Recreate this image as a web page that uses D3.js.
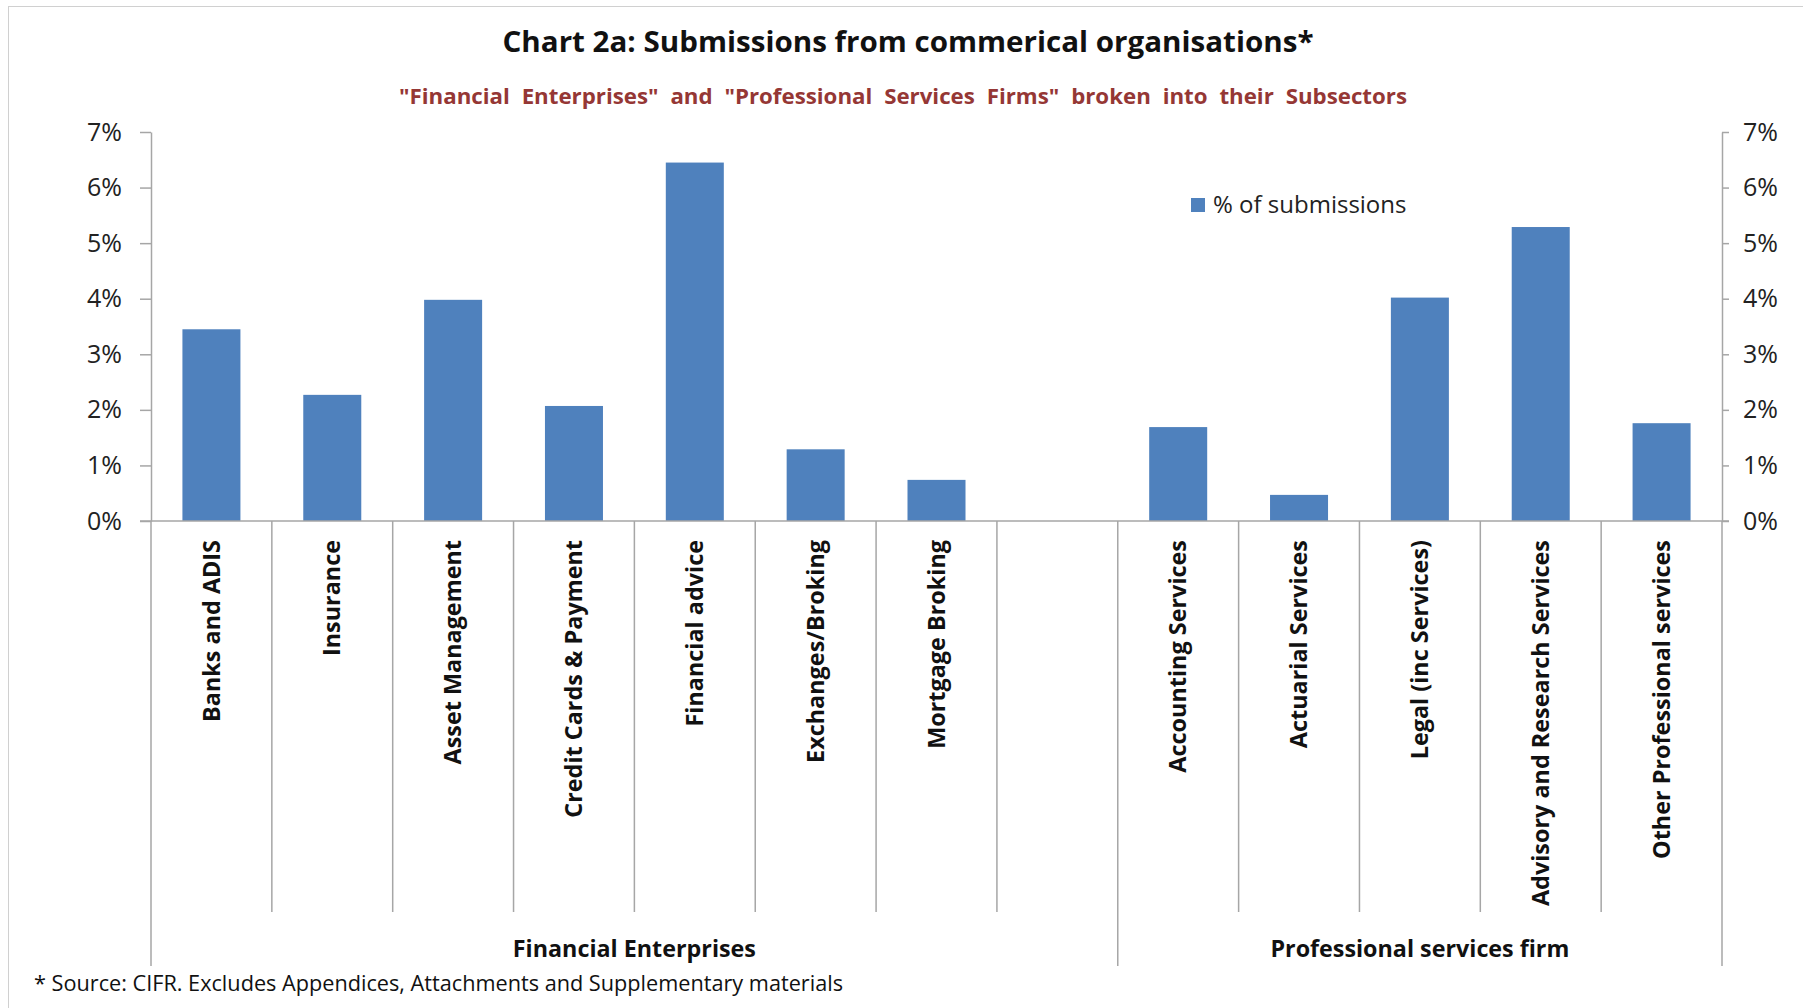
<!DOCTYPE html>
<html lang="en">
<head>
  <meta charset="UTF-8">
  <title>Chart 2a</title>
  <style>
    body { margin: 0; background: #fff; }
    svg text { font-family: "Open Sans", "Noto Sans", sans-serif; }
  </style>
</head>
<body>
  <script src="https://d3js.org/d3.v7.min.js"></script>
  <script>
    // data
    const categories = ['Banks and ADIS', 'Insurance', 'Asset Management', 'Credit Cards & Payment',
      'Financial advice', 'Exchanges/Broking', 'Mortgage Broking', '',
      'Accounting Services', 'Actuarial Services', 'Legal (inc Services)',
      'Advisory and Research Services', 'Other Professional services']
    const values = [3.45, 2.27, 3.98, 2.07, 6.45, 1.29, 0.74, null, 1.69, 0.47, 4.02, 5.29, 1.76]
    const groupNames = ['Financial Enterprises', 'Professional services firm']
    const groupSizes = [8, 5]
    const yTicks = [0, 1, 2, 3, 4, 5, 6, 7]

    const W = 1803, H = 1008
    const plotLeft = 151, plotRight = 1722, plotBase = 521, plotTop = 132
    const shortEnd = 912, longEnd = 966
    const grey = '#a6a6a6'
    const barColor = '#4f81bd'

    const svg = d3.select('body').append('svg')
      .attr('width', W)
      .attr('height', H)

    // outer frame
    svg.append('rect')
      .attr('x', 8.5).attr('y', 6.5)
      .attr('width', W + 20).attr('height', H + 20)
      .attr('fill', 'none').attr('stroke', '#d0d0d0')

    const fit = (sel, w) => sel.attr('textLength', w).attr('lengthAdjust', 'spacingAndGlyphs')

    svg.append('text')
      .attr('x', 908).attr('y', 52)
      .attr('text-anchor', 'middle')
      .attr('font-size', 29).attr('font-weight', 700).attr('fill', '#111')
      .text('Chart 2a: Submissions from commerical organisations*')
      .call(fit, 811)

    svg.append('text')
      .attr('x', 903).attr('y', 104)
      .attr('text-anchor', 'middle')
      .attr('font-size', 22).attr('font-weight', 700).attr('fill', '#953735')
      .attr('word-spacing', 6)
      .text('"Financial Enterprises" and "Professional Services Firms" broken into their Subsectors')
      .call(fit, 1008)

    const x = d3.scaleBand()
      .domain(categories)
      .range([plotLeft, plotRight])
      .paddingInner(0.52)
      .paddingOuter(0.26)

    const y = d3.scaleLinear()
      .domain([0, 7])
      .range([plotBase, plotTop])

    // bars
    svg.append('g').selectAll('rect')
      .data(categories.map((c, i) => ({ c, v: values[i] })).filter(d => d.v != null))
      .enter()
      .append('rect')
      .attr('x', d => x(d.c))
      .attr('y', d => y(d.v))
      .attr('width', x.bandwidth())
      .attr('height', d => plotBase - y(d.v))
      .attr('fill', barColor)

    // y axes
    const styleAxis = g => {
      g.selectAll('path, line').attr('stroke', grey).attr('stroke-width', 1.5)
      g.selectAll('text').attr('font-size', 25).attr('fill', '#222')
        .attr('font-family', '"Open Sans", sans-serif')
    }
    svg.append('g')
      .attr('transform', `translate(${plotLeft},0)`)
      .call(d3.axisLeft(y).tickValues(yTicks).tickSize(11).tickSizeOuter(0).tickPadding(18)
        .tickFormat(d => d + '%'))
      .call(styleAxis)
    svg.append('g')
      .attr('transform', `translate(${plotRight},0)`)
      .call(d3.axisRight(y).tickValues(yTicks).tickSize(7).tickSizeOuter(0).tickPadding(14)
        .tickFormat(d => d + '%'))
      .call(styleAxis)

    // baseline
    svg.append('line')
      .attr('x1', plotLeft - 11).attr('x2', plotRight + 7)
      .attr('y1', plotBase).attr('y2', plotBase)
      .attr('stroke', grey).attr('stroke-width', 1.5)

    // category boundaries
    const step = x.step()
    const groupStarts = groupSizes.map((s, i) => d3.sum(groupSizes.slice(0, i)))
    const boundaries = d3.range(categories.length + 1)
    svg.append('g').selectAll('line')
      .data(boundaries)
      .enter()
      .append('line')
      .attr('x1', i => plotLeft + i * step)
      .attr('x2', i => plotLeft + i * step)
      .attr('y1', plotBase)
      .attr('y2', i => (i === categories.length || groupStarts.includes(i)) ? longEnd : shortEnd)
      .attr('stroke', grey).attr('stroke-width', 1.5)

    // category labels
    svg.append('g').selectAll('text')
      .data(categories)
      .enter()
      .append('text')
      .attr('transform', d => `translate(${x(d) + x.bandwidth() / 2},540) rotate(-90)`)
      .attr('text-anchor', 'end')
      .attr('dy', '0.35em')
      .attr('font-size', 23.4).attr('font-weight', 700).attr('fill', '#111')
      .text(d => d)

    // group labels
    svg.append('g').selectAll('text')
      .data(groupNames)
      .enter()
      .append('text')
      .attr('x', (d, i) => plotLeft + (groupStarts[i] + groupSizes[i] / 2) * step)
      .attr('y', 957)
      .attr('text-anchor', 'middle')
      .attr('font-size', 23.3).attr('font-weight', 700).attr('fill', '#111')
      .text(d => d)

    // legend
    const legend = svg.append('g').attr('transform', 'translate(1191,198)')
    legend.append('rect')
      .attr('width', 14).attr('height', 14)
      .attr('fill', barColor)
    legend.append('text')
      .attr('x', 22).attr('y', 15)
      .attr('font-size', 24).attr('fill', '#222')
      .text('% of submissions')

    // footnote
    svg.append('text')
      .attr('x', 34).attr('y', 991)
      .attr('font-size', 21).attr('fill', '#111')
      .text('* Source: CIFR. Excludes Appendices, Attachments and Supplementary materials')
      .call(fit, 809)
  </script>
</body>
</html>
